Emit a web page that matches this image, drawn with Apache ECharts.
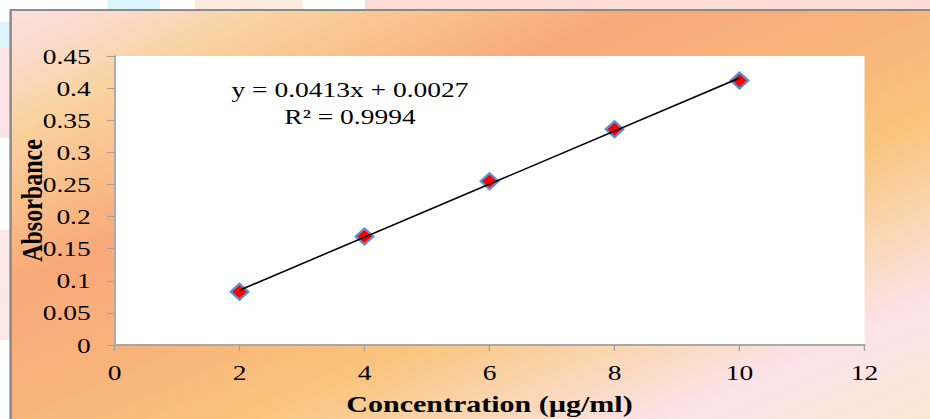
<!DOCTYPE html>
<html>
<head>
<meta charset="utf-8">
<script src="https://cdn.jsdelivr.net/npm/echarts@6/dist/echarts.min.js"></script>
<style>
html,body{margin:0;padding:0;background:#fff;overflow:hidden;width:930px;height:419px;}
#wrap{position:absolute;left:0;top:0;width:930px;height:419px;overflow:hidden;}
#chart{position:absolute;left:0;top:0;width:744px;height:419px;transform:scaleX(1.25);transform-origin:0 0;}
</style>
</head>
<body>
<div id="wrap"><div id="chart"></div></div>
<script>
// ---- data ----
const concentration = [2, 4, 6, 8, 10];
const absorbance = [0.083, 0.169, 0.255, 0.336, 0.412];
const trendX = [2, 10];
const trendY = [0.0853, 0.4157];
const xTickLabels = ['0', '2', '4', '6', '8', '10', '12'];
const yTickLabels = ['0', '0.05', '0.1', '0.15', '0.2', '0.25', '0.3', '0.35', '0.4', '0.45'];
const equationLines = ['y = 0.0413x + 0.0027', 'R\u00B2 = 0.9994'];
const xTitle = 'Concentration (\u00B5g/ml)';
const yTitle = 'Absorbance';

const FONT = "'Liberation Serif', 'Times New Roman', serif";

const chart = echarts.init(document.getElementById('chart'), null, {renderer: 'svg'});

const bgGradient = new echarts.graphic.LinearGradient(0, 0, 352, 636, [
  {offset: 0.00, color: '#FCE1E3'},
  {offset: 0.08, color: '#FBDACB'},
  {offset: 0.16, color: '#F9D3A0'},
  {offset: 0.26, color: '#F9BE8A'},
  {offset: 0.35, color: '#F8A979'},
  {offset: 0.50, color: '#F8B47B'},
  {offset: 0.64, color: '#F9C57E'},
  {offset: 0.75, color: '#FAD6B2'},
  {offset: 0.86, color: '#FCE3EA'},
  {offset: 1.00, color: '#FBE8D2'}
], true);

const option = {
  animation: false,
  backgroundColor: '#ffffff',
  graphic: [
    {type: 'rect', z: -10, silent: true, shape: {x: 86, y: 0, width: 42, height: 9}, style: {fill: '#D9F5FB'}},
    {type: 'rect', z: -10, silent: true, shape: {x: 156, y: 0, width: 86, height: 9}, style: {fill: '#FFEBDD'}},
    {type: 'rect', z: -10, silent: true, shape: {x: 292, y: 0, width: 460, height: 9}, style: {fill: '#FFDDD6'}},
    {type: 'rect', z: -10, silent: true, shape: {x: 0, y: 22, width: 8, height: 34}, style: {fill: '#D9F5FB'}},
    {type: 'rect', z: -10, silent: true, shape: {x: 0, y: 48, width: 8, height: 90}, style: {fill: '#FDE4E6'}},
    {type: 'rect', z: -10, silent: true, shape: {x: 0, y: 230, width: 8, height: 110}, style: {fill: '#FDE6E6'}},
    {
      type: 'rect', z: -5, silent: true,
      shape: {x: 8.5, y: 10, width: 760, height: 420},
      style: {fill: bgGradient, stroke: '#8A8A8A', lineWidth: 2}
    },
    {
      type: 'text', z: 50, silent: true,
      style: {x: 280, y: 89, text: equationLines[0], font: '22px ' + FONT, fill: '#000',
        textAlign: 'center', textVerticalAlign: 'middle'}
    },
    {
      type: 'text', z: 50, silent: true,
      style: {x: 280, y: 117, text: equationLines[1], font: '22px ' + FONT, fill: '#000',
        textAlign: 'center', textVerticalAlign: 'middle'}
    }
  ],
  grid: {
    left: 91.6, right: 52.4, top: 56, bottom: 74,
    outerBoundsMode: 'none', containLabel: false,
    show: true, backgroundColor: '#ffffff', borderWidth: 0
  },
  xAxis: {
    type: 'value', min: 0, max: 12, interval: 2,
    name: xTitle, nameLocation: 'middle', nameGap: 47, nameMoveOverlap: false,
    nameTextStyle: {fontFamily: FONT, fontSize: 24, fontWeight: 'bold', color: '#000'},
    axisLine: {show: true, onZero: false, lineStyle: {color: '#A8A8A8', width: 2}},
    axisTick: {show: true, inside: false, length: 6, lineStyle: {color: '#A0A0A0', width: 1}},
    axisLabel: {fontFamily: FONT, fontSize: 22, color: '#000', margin: 16,
      formatter: function (v) { return xTickLabels[Math.round(v / 2)]; }},
    splitLine: {show: false}
  },
  yAxis: {
    type: 'value', min: 0, max: 0.45, interval: 0.05,
    name: yTitle, nameLocation: 'middle', nameGap: 54, nameMoveOverlap: false,
    nameTextStyle: {fontFamily: FONT, fontSize: 24, fontWeight: 'bold', color: '#000'},
    axisLine: {show: true, onZero: false, lineStyle: {color: '#A8A8A8', width: 1.5}},
    axisTick: {show: true, inside: false, length: 6, lineStyle: {color: '#A0A0A0', width: 1}},
    axisLabel: {fontFamily: FONT, fontSize: 22, color: '#000', margin: 19,
      formatter: function (v) { return yTickLabels[Math.round(v / 0.05)]; }},
    splitLine: {show: false}
  },
  series: [
    {
      type: 'scatter', z: 3,
      data: concentration.map(function (c, i) { return [c, absorbance[i]]; }),
      symbol: 'diamond', symbolSize: [14, 16],
      itemStyle: {color: '#FF0000', borderColor: '#5B8FD0', borderWidth: 2, opacity: 1}
    },
    {
      type: 'line', z: 5,
      data: trendX.map(function (x, i) { return [x, trendY[i]]; }),
      showSymbol: false, symbol: 'none',
      lineStyle: {color: '#000000', width: 1.5}
    }
  ]
};
chart.setOption(option);
</script>
</body>
</html>
